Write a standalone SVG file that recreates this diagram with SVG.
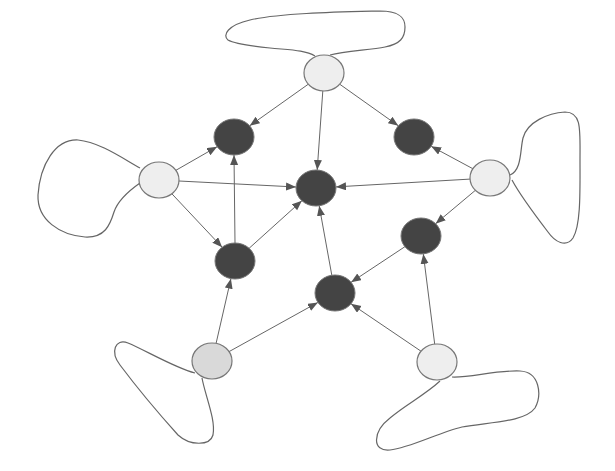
<svg xmlns="http://www.w3.org/2000/svg" width="615" height="471" viewBox="0 0 615 471">
<defs>
<style>
.e{stroke:#666;stroke-width:1;fill:none;marker-end:url(#arr)}
.loop{stroke:#666;stroke-width:1.2;fill:none}
.dark{fill:#444;stroke:#777;stroke-width:1}
.light{fill:#eee;stroke:#777;stroke-width:1.2}
.gray{fill:#d9d9d9;stroke:#777;stroke-width:1.2}
</style>
<marker id="arr" markerUnits="userSpaceOnUse" markerWidth="11" markerHeight="9" refX="10" refY="4" orient="auto">
<path d="M0,0 L10,4 L0,8 z" fill="#555"/>
</marker>
</defs>
<rect width="615" height="471" fill="#fff"/>
<g id="loops">
<path class="loop" d="M315,56 C305,50 290,50 270,48 C250,46 235,44 228,40 C222,35 228,25 250,20 C280,13 340,12 380,11 C400,11 405,18 405,27 C405,38 400,44 385,47 C370,50 345,51 330,55"/>
<path class="loop" d="M140,168 C125,160 100,142 78,140 C55,139 40,165 38,195 C37,220 60,235 85,237 C105,238 110,225 114,212 C118,200 130,190 140,183"/>
<path class="loop" d="M510,175 C522,170 520,150 523,138 C527,122 548,113 565,112 C582,112 580,130 580,160 C580,190 581,225 573,238 C566,248 555,242 548,232 C535,215 520,195 512,180"/>
<path class="loop" d="M195,373 C175,368 145,350 128,343 C115,338 110,352 120,365 C135,385 160,415 178,435 C190,446 210,446 213,435 C216,420 205,395 202,378"/>
<path class="loop" d="M452,377 C470,378 495,370 520,371 C540,372 542,395 535,408 C525,422 490,422 462,427 C440,432 410,448 390,450 C372,452 372,432 390,418 C405,405 425,395 440,381"/>
</g>
<g id="connectors">
<line class="e" x1="308.3" y1="84.2" x2="249.7" y2="125.8"/>
<line class="e" x1="339.7" y1="84.2" x2="398.3" y2="125.8"/>
<line class="e" x1="322.8" y1="91" x2="317.2" y2="170"/>
<line class="e" x1="175.9" y1="170.3" x2="217.1" y2="146.7"/>
<line class="e" x1="179" y1="181" x2="296" y2="187"/>
<line class="e" x1="171.9" y1="193.8" x2="222.1" y2="247.2"/>
<line class="e" x1="235" y1="243" x2="234" y2="155"/>
<line class="e" x1="249.1" y1="248.3" x2="301.9" y2="200.7"/>
<line class="e" x1="472.8" y1="168.7" x2="431.2" y2="146.3"/>
<line class="e" x1="470" y1="179.1" x2="336" y2="186.9"/>
<line class="e" x1="475.4" y1="190.3" x2="435.6" y2="223.7"/>
<line class="e" x1="404.9" y1="246.7" x2="351.1" y2="282.3"/>
<line class="e" x1="331.8" y1="275.2" x2="319.2" y2="205.8"/>
<line class="e" x1="216.1" y1="343.3" x2="230.9" y2="278.7"/>
<line class="e" x1="229.1" y1="351.6" x2="317.9" y2="302.4"/>
<line class="e" x1="421" y1="351.2" x2="351" y2="303.8"/>
<line class="e" x1="434.7" y1="344.1" x2="423.3" y2="253.9"/>
</g>
<g id="n-top"><ellipse class="light" cx="324" cy="73" rx="20" ry="18"/></g>
<g id="n-left"><ellipse class="light" cx="159" cy="180" rx="20" ry="18"/></g>
<g id="n-right"><ellipse class="light" cx="490" cy="178" rx="20" ry="18"/></g>
<g id="n-bottomleft"><ellipse class="gray" cx="212" cy="361" rx="20" ry="18"/></g>
<g id="n-bottomright"><ellipse class="light" cx="437" cy="362" rx="20" ry="18"/></g>
<g id="n-d1"><ellipse class="dark" cx="234" cy="137" rx="20" ry="18"/></g>
<g id="n-d2"><ellipse class="dark" cx="414" cy="137" rx="20" ry="18"/></g>
<g id="n-center"><ellipse class="dark" cx="316" cy="188" rx="20" ry="18"/></g>
<g id="n-d3"><ellipse class="dark" cx="235" cy="261" rx="20" ry="18"/></g>
<g id="n-d4"><ellipse class="dark" cx="421" cy="236" rx="20" ry="18"/></g>
<g id="n-d5"><ellipse class="dark" cx="335" cy="293" rx="20" ry="18"/></g>
</svg>
